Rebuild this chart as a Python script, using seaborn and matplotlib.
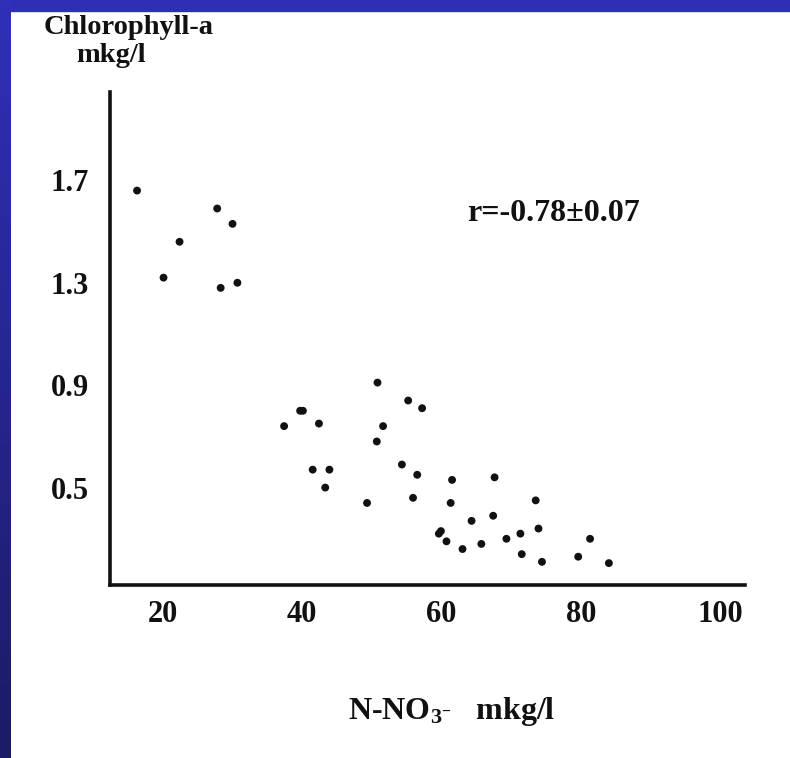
import matplotlib
matplotlib.use("Agg")
import matplotlib.pyplot as plt
import matplotlib.colors as mcolors
import seaborn as sns
import numpy as np
import pandas as pd

# ---- data ----
nitrate = [16.3, 27.8, 30.0, 22.4, 20.1, 28.3, 30.7,
           50.8, 39.7, 40.1, 55.2, 57.2, 37.4, 42.4, 51.6, 50.7,
           41.5, 43.9, 43.3, 49.3, 54.3, 56.5, 55.9, 61.5, 67.6,
           61.3, 73.5, 67.4, 64.3, 59.6, 59.9, 60.7, 63.0, 65.7,
           69.3, 71.3, 73.9, 71.5, 74.4, 79.6, 81.3, 84.0]
chlorophyll = [1.66, 1.59, 1.53, 1.46, 1.32, 1.28, 1.30,
               0.91, 0.80, 0.80, 0.84, 0.81, 0.74, 0.75, 0.74, 0.68,
               0.57, 0.57, 0.50, 0.44, 0.59, 0.55, 0.46, 0.53, 0.54,
               0.44, 0.45, 0.39, 0.37, 0.32, 0.33, 0.29, 0.26, 0.28,
               0.30, 0.32, 0.34, 0.24, 0.21, 0.23, 0.30, 0.205]
x_ticks = [20, 40, 60, 80, 100]
x_tick_labels = ["20", "40", "60", "80", "100"]
y_ticks = [0.5, 0.9, 1.3, 1.7]
y_tick_labels = ["0.5", "0.9", "1.3", "1.7"]
y_title_line1 = "Chlorophyll-a"
y_title_line2 = "mkg/l"
x_title = r"N-NO$_{3^{-}}$   mkg/l"
annotation = "r=-0.78\u00b10.07"

sns.set_theme(style="white")
plt.rcParams["font.family"] = ["Liberation Serif", "DejaVu Serif"]
plt.rcParams["font.weight"] = "bold"
plt.rcParams["mathtext.fontset"] = "custom"
plt.rcParams["mathtext.rm"] = "Liberation Serif:bold"
plt.rcParams["mathtext.it"] = "Liberation Serif:bold"
plt.rcParams["mathtext.bf"] = "Liberation Serif:bold"
plt.rcParams["mathtext.default"] = "rm"

W, H = 790, 758
fig = plt.figure(figsize=(W / 100, H / 100), dpi=100)
fig.patch.set_facecolor("white")

# blue slide frame: top strip and left gradient strip
fig.add_artist(plt.Rectangle((0, 1 - 11 / H), 1, 11 / H, transform=fig.transFigure,
                             color="#2F2FB6", zorder=0))
ax_bg = fig.add_axes([0, 0, 11 / W, 1], zorder=0)
c_top = np.array(mcolors.to_rgb("#3030B8"))
c_bot = np.array(mcolors.to_rgb("#1B1B66"))
t = np.linspace(0, 1, 256)[:, None, None]
grad = c_top * (1 - t) + c_bot * t
ax_bg.imshow(grad, aspect="auto", extent=[0, 1, 0, 1])
ax_bg.axis("off")

# main axes
ax = fig.add_axes([110 / W, 1 - 585 / H, 635 / W, 493 / H])
ax.set_facecolor("none")
df = pd.DataFrame({"nitrate": nitrate, "chlorophyll": chlorophyll})
sns.scatterplot(data=df, x="nitrate", y="chlorophyll", ax=ax, s=32,
                color="#111111", edgecolor="none", linewidth=0, zorder=3)

ax.set_xlim(12.42, 103.53)
ax.set_ylim(0.1195, 2.045)
for s in ["top", "right"]:
    ax.spines[s].set_visible(False)
for s in ["left", "bottom"]:
    ax.spines[s].set_color("#111111")
    ax.spines[s].set_linewidth(2.6)

ax.set_xticks(x_ticks)
ax.set_xticklabels(x_tick_labels)
ax.set_yticks(y_ticks)
ax.set_yticklabels(y_tick_labels)
ax.tick_params(axis="both", direction="inout", length=14, width=2.2,
               color="#111111", labelsize=22, labelcolor="#111111")
ax.tick_params(axis="x", pad=4)
ax.tick_params(axis="y", pad=8)
for lab in ax.get_xticklabels() + ax.get_yticklabels():
    lab.set_fontweight("bold")
ax.set_xlabel("")
ax.set_ylabel("")
ax.grid(False)

ax.text(76.1, 1.569, annotation, ha="center", va="center", fontsize=23,
        fontweight="bold", color="#111111")

fig.text(129 / W, 1 - 28 / H, y_title_line1, ha="center", va="center",
         fontsize=20.5, fontweight="bold", color="#111111")
fig.text(111 / W, 1 - 56 / H, y_title_line2, ha="center", va="center",
         fontsize=20.5, fontweight="bold", color="#111111")
fig.text(452 / W, 1 - 712 / H, x_title, ha="center", va="center",
         fontsize=23, fontweight="bold", color="#111111")

fig.savefig("out.png", dpi=100)
